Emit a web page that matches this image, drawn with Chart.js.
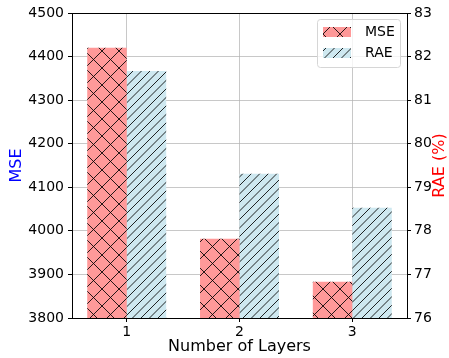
<!DOCTYPE html>
<html>
<head>
<meta charset="utf-8">
<script src="https://cdn.jsdelivr.net/npm/chart.js@4/dist/chart.umd.min.js"></script>
<style>
  html, body { margin: 0; padding: 0; background: #ffffff; }
  #wrap { position: relative; width: 449px; height: 358px; }
</style>
</head>
<body>
<div id="wrap"><canvas id="chart" width="449" height="358"></canvas></div>
<script>
// Layer counts and the two error metrics measured for each
const layers = [1, 2, 3];
const mseValues = [4420, 3982, 3883];
const raeValues = [81.67, 79.31, 78.53];

const seriesNames = ['MSE', 'RAE'];
const axisTitles = { x: 'Number of Layers', left: 'MSE', right: 'RAE (%)' };

const FONT = "'DejaVu Sans', 'Liberation Sans', sans-serif";

// Hatched fills: a repeating tile with the base colour and diagonal strokes
function hatchPattern(base, step, forward, backward) {
  const s = 17;
  const c = document.createElement('canvas');
  c.width = s; c.height = s;
  const g = c.getContext('2d');
  g.fillStyle = base;
  g.fillRect(0, 0, s, s);
  g.strokeStyle = 'rgba(0,0,0,0.85)';
  g.lineWidth = 1;
  g.beginPath();
  for (let o = -2 * s; o <= 2 * s; o += step) {
    if (forward) { g.moveTo(o, s); g.lineTo(o + s, 0); }
    if (backward) { g.moveTo(o, 0); g.lineTo(o + s, s); }
  }
  g.stroke();
  return g.createPattern(c, 'repeat');
}

const mseFill = hatchPattern('#ff9999', 17, true, true);
const raeFill = hatchPattern('#cee8f0', 8.5, true, false);

Chart.defaults.font.family = FONT;
Chart.defaults.font.size = 14;
Chart.defaults.color = '#000000';

const plainNumber = v => String(v);

// Frame, floating legend and the right-hand axis title
const extras = {
  id: 'extras',
  afterDraw(chart) {
    const { ctx, chartArea: a } = chart;
    ctx.save();
    ctx.strokeStyle = '#000000';
    ctx.lineWidth = 1;
    ctx.beginPath();
    ctx.moveTo(a.left, a.top + 0.5);
    ctx.lineTo(a.right, a.top + 0.5);
    ctx.stroke();

    // legend box
    const bx = 317.5, by = 19.5, bw = 83, bh = 48;
    ctx.fillStyle = 'rgba(255,255,255,0.8)';
    ctx.strokeStyle = '#d6d6d6';
    ctx.beginPath();
    ctx.roundRect(bx, by, bw, bh, 3);
    ctx.fill();
    ctx.stroke();
    const rows = [27, 48];
    chart.data.datasets.forEach((ds, i) => {
      ctx.fillStyle = ds.backgroundColor;
      ctx.fillRect(323, rows[i], 28, 10);
      ctx.fillStyle = '#000000';
      ctx.font = '14px ' + FONT;
      ctx.textAlign = 'left';
      ctx.textBaseline = 'middle';
      ctx.fillText(ds.label, 365, rows[i] + 5);
    });

    // right axis title, reading upwards
    ctx.translate(440, (a.top + a.bottom) / 2);
    ctx.rotate(-Math.PI / 2);
    ctx.fillStyle = '#ff0000';
    ctx.font = '16px ' + FONT;
    ctx.textAlign = 'center';
    ctx.textBaseline = 'middle';
    ctx.fillText(axisTitles.right, 0, 0);
    ctx.restore();
  }
};

new Chart(document.getElementById('chart'), {
  type: 'bar',
  data: {
    datasets: [
      {
        label: seriesNames[0],
        data: layers.map((l, i) => ({ x: l, y: mseValues[i] })),
        backgroundColor: mseFill,
        borderWidth: 0,
        yAxisID: 'y'
      },
      {
        label: seriesNames[1],
        data: layers.map((l, i) => ({ x: l, y: raeValues[i] })),
        backgroundColor: raeFill,
        borderWidth: 0,
        yAxisID: 'y1'
      }
    ]
  },
  options: {
    responsive: false,
    animation: false,
    events: [],
    categoryPercentage: 0.7,
    barPercentage: 1.0,
    layout: { padding: { top: 13, left: 0, right: 0, bottom: 0 } },
    plugins: { legend: { display: false }, tooltip: { enabled: false } },
    scales: {
      x: {
        type: 'linear',
        min: 0.515,
        max: 3.485,
        offset: false,
        ticks: { stepSize: 1, includeBounds: false, padding: 2, font: { size: 14 }, callback: plainNumber },
        grid: { offset: false, color: 'rgba(176,176,176,0.7)', lineWidth: 1, tickColor: '#000000', tickLength: 4 },
        border: { color: '#000000', width: 1 },
        title: { display: true, text: axisTitles.x, font: { size: 16 }, color: '#000000', padding: { top: 0, bottom: 2 } },
        afterFit(scale) { scale.height = 40; }
      },
      y: {
        position: 'left',
        min: 3800,
        max: 4500,
        beginAtZero: false,
        ticks: { stepSize: 100, padding: 4, font: { size: 14 }, callback: plainNumber },
        grid: { color: 'rgba(176,176,176,0.7)', lineWidth: 1, tickColor: '#000000', tickLength: 4 },
        border: { color: '#000000', width: 1 },
        title: { display: true, text: axisTitles.left, font: { size: 16 }, color: '#0000ff', padding: { top: 7, bottom: 0 } },
        afterFit(scale) { scale.width = 72; }
      },
      y1: {
        position: 'right',
        min: 76,
        max: 83,
        beginAtZero: false,
        ticks: { stepSize: 1, padding: 3, font: { size: 14 }, callback: plainNumber },
        grid: { drawOnChartArea: false, tickColor: '#000000', tickLength: 4 },
        border: { color: '#000000', width: 1 },
        afterFit(scale) { scale.width = 42; }
      }
    }
  },
  plugins: [extras]
});
</script>
</body>
</html>
